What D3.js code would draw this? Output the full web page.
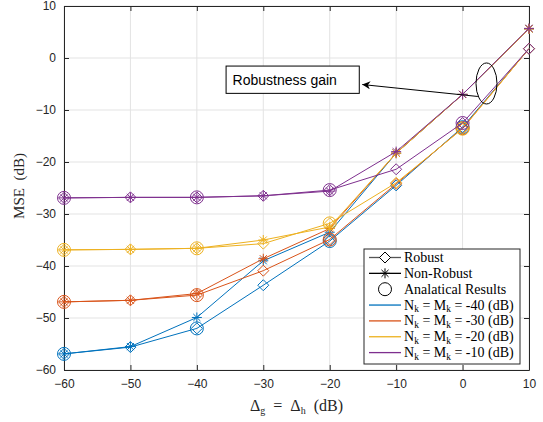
<!DOCTYPE html>
<html>
<head>
<meta charset="utf-8">
<script src="https://cdn.jsdelivr.net/npm/d3@7"></script>
<style>
  body { margin: 0; background: #fff; }
  svg { display: block; }
  .tick text { font-family: "Liberation Sans", Arial, sans-serif; font-size: 12px; fill: #262626; }
</style>
</head>
<body>
<svg id="chart" width="543" height="422"></svg>
<script>
// données
const deltas = [-60, -50, -40, -30, -20, -10, 0, 10];
const analyticIdx = [0, 2, 4, 6]; // points où la courbe analytique est tracée
const noiseLevels = ["-40", "-30", "-20", "-10"];
const colors = ["#0072BD", "#D95319", "#EDB120", "#7E2F8E"];

const robust40 = [-56.9, -55.6, -52.0, -43.7, -35.2, -24.5, -13.3, 1.8];
const nonRobust40 = [-56.9, -55.5, -49.9, -39.0, -33.5, -18.3, -7.0, 5.6];
const robust30 = [-46.9, -46.6, -45.6, -40.9, -34.9, -24.2, -13.5, 1.8];
const nonRobust30 = [-46.9, -46.6, -45.3, -38.6, -32.8, -18.3, -7.0, 5.6];
const robust20 = [-36.9, -36.8, -36.6, -35.7, -31.8, -24.0, -13.6, 1.8];
const nonRobust20 = [-36.9, -36.8, -36.6, -35.0, -32.5, -18.3, -7.0, 5.6];
const robust10 = [-26.9, -26.8, -26.8, -26.5, -25.4, -21.4, -12.5, 1.8];
const nonRobust10 = [-26.9, -26.8, -26.8, -26.5, -25.6, -18.0, -7.0, 5.7];

const xTicks = [-60, -50, -40, -30, -20, -10, 0, 10];
const yTicks = [-60, -50, -40, -30, -20, -10, 0, 10];

const series = [
  { robust: robust40, nonRobust: nonRobust40 },
  { robust: robust30, nonRobust: nonRobust30 },
  { robust: robust20, nonRobust: nonRobust20 },
  { robust: robust10, nonRobust: nonRobust10 }
];

const margin = { top: 6, right: 14, bottom: 52, left: 64 };
const width = 543 - margin.left - margin.right;
const height = 422 - margin.top - margin.bottom;

const svg = d3.select("#chart");
const g = svg.append("g").attr("transform", `translate(${margin.left},${margin.top})`);

const x = d3.scaleLinear().domain([-60, 10]).range([0, width]);
const y = d3.scaleLinear().domain([-60, 10]).range([height, 0]);

// grille
g.append("g").selectAll("line").data(xTicks).enter().append("line")
  .attr("x1", d => x(d)).attr("x2", d => x(d)).attr("y1", 0).attr("y2", height)
  .attr("stroke", "#e3e3e3").attr("stroke-width", 1);
g.append("g").selectAll("line").data(yTicks).enter().append("line")
  .attr("y1", d => y(d)).attr("y2", d => y(d)).attr("x1", 0).attr("x2", width)
  .attr("stroke", "#e3e3e3").attr("stroke-width", 1);

// axes
g.append("g").attr("transform", `translate(0,${height})`)
  .call(d3.axisBottom(x).tickValues(xTicks).tickSizeInner(-5).tickSizeOuter(0).tickPadding(9));
g.append("g")
  .call(d3.axisLeft(y).tickValues(yTicks).tickSizeInner(-5).tickSizeOuter(0).tickPadding(8));
g.append("g")
  .call(d3.axisTop(x).tickValues(xTicks).tickSizeInner(-5).tickSizeOuter(0).tickFormat(""));
g.append("g").attr("transform", `translate(${width},0)`)
  .call(d3.axisRight(y).tickValues(yTicks).tickSizeInner(-5).tickSizeOuter(0).tickFormat(""));
g.selectAll(".domain").attr("stroke", "#262626");
g.selectAll(".tick line").attr("stroke", "#262626");

// symboles
const diamond = (s) => `M0,${-s}L${s},0L0,${s}L${-s},0Z`;
const asterisk = (s) => {
  const d = s * 0.7071;
  return `M${-s},0L${s},0M0,${-s}L0,${s}M${-d},${-d}L${d},${d}M${-d},${d}L${d},${-d}`;
};

const line = d3.line().x((d, i) => x(deltas[i])).y(d => y(d));

series.forEach((s, k) => {
  const c = colors[k];
  const sg = g.append("g");
  [s.robust, s.nonRobust].forEach(vals => {
    sg.append("path").datum(vals).attr("d", line)
      .attr("fill", "none").attr("stroke", c).attr("stroke-width", 1);
  });
  sg.selectAll(".dia").data(s.robust).enter().append("path")
    .attr("transform", (d, i) => `translate(${x(deltas[i])},${y(d)})`)
    .attr("d", diamond(5.5)).attr("fill", "none").attr("stroke", c).attr("stroke-width", 1);
  sg.selectAll(".ast").data(s.nonRobust).enter().append("path")
    .attr("transform", (d, i) => `translate(${x(deltas[i])},${y(d)})`)
    .attr("d", asterisk(5)).attr("fill", "none").attr("stroke", c).attr("stroke-width", 1);
  sg.selectAll(".circ").data(analyticIdx).enter().append("circle")
    .attr("cx", i => x(deltas[i])).attr("cy", i => y(s.robust[i])).attr("r", 6.5)
    .attr("fill", "none").attr("stroke", c).attr("stroke-width", 1);
});

// annotation "Robustness gain"
const ell = { cx: x(3.6), cy: y(-4.9) };
g.append("ellipse").attr("cx", ell.cx).attr("cy", ell.cy).attr("rx", 10.5).attr("ry", 20.5)
  .attr("fill", "none").attr("stroke", "#000").attr("stroke-width", 1);
svg.append("defs").append("marker").attr("id", "arr").attr("viewBox", "0 0 10 10")
  .attr("refX", 10).attr("refY", 5).attr("markerWidth", 12).attr("markerHeight", 8)
  .attr("markerUnits", "userSpaceOnUse").attr("orient", "auto")
  .append("path").attr("d", "M0,0L10,5L0,10L3,5Z").attr("fill", "#000");
g.append("line").attr("x1", x(2.3)).attr("y1", y(-7.4)).attr("x2", x(-15.1)).attr("y2", y(-5.1))
  .attr("stroke", "#000").attr("stroke-width", 1).attr("marker-end", "url(#arr)");
const boxX0 = x(-35.6), boxX1 = x(-15.55);
g.append("rect").attr("x", boxX0).attr("y", y(-1.55)).attr("width", boxX1 - boxX0).attr("height", y(-6.8) - y(-1.55))
  .attr("fill", "#fff").attr("stroke", "#000").attr("stroke-width", 1);
g.append("text").attr("x", boxX0 + 6.5).attr("y", y(-4.2) + 5)
  .attr("font-family", "Liberation Sans, Arial, sans-serif").attr("font-size", 14).attr("fill", "#000")
  .text("Robustness gain");

// légende
const lg = svg.append("g").attr("transform", "translate(364,249)");
lg.append("rect").attr("width", 156).attr("height", 115).attr("fill", "#fff")
  .attr("stroke", "#262626").attr("stroke-width", 1);
const serif = "Liberation Serif, 'Times New Roman', serif";
const rowY = (i) => 8.5 + i * 15.85;
const lx0 = 5, lx1 = 37, tx = 40;
const legendRows = [
  { label: "Robust", color: "#555", sym: "dia" },
  { label: "Non-Robust", color: "#000", sym: "ast" },
  { label: "Analatical Results", color: null, sym: "circ" }
];
legendRows.forEach((r, i) => {
  const yy = rowY(i);
  if (r.color) lg.append("line").attr("x1", lx0).attr("x2", lx1).attr("y1", yy).attr("y2", yy)
    .attr("stroke", r.color).attr("stroke-width", 1.3);
  const mx = (lx0 + lx1) / 2;
  if (r.sym === "dia") lg.append("path").attr("transform", `translate(${mx},${yy})`).attr("d", diamond(5.5))
    .attr("fill", "#fff").attr("stroke", "#000");
  if (r.sym === "ast") lg.append("path").attr("transform", `translate(${mx},${yy})`).attr("d", asterisk(5))
    .attr("fill", "none").attr("stroke", "#000");
  if (r.sym === "circ") lg.append("circle").attr("cx", mx).attr("cy", yy).attr("r", 6.5)
    .attr("fill", "none").attr("stroke", "#000");
  lg.append("text").attr("x", tx).attr("y", yy + 4.5).attr("font-family", serif).attr("font-size", 14)
    .attr("fill", "#000").text(r.label);
});
noiseLevels.forEach((n, k) => {
  const yy = rowY(k + 3);
  lg.append("line").attr("x1", lx0).attr("x2", lx1).attr("y1", yy).attr("y2", yy)
    .attr("stroke", colors[k]).attr("stroke-width", 1.3);
  const t = lg.append("text").attr("x", tx).attr("y", yy + 4.5).attr("font-family", serif)
    .attr("font-size", 14).attr("fill", "#000");
  t.append("tspan").text("N");
  t.append("tspan").attr("font-size", 9.5).attr("dy", 2.5).text("k");
  t.append("tspan").attr("dy", -2.5).text(" = M");
  t.append("tspan").attr("font-size", 9.5).attr("dy", 2.5).text("k");
  t.append("tspan").attr("dy", -2.5).text(` = ${n} (dB)`);
});

// titres des axes
const nb = "\u00a0";
const xl = svg.append("text").attr("x", margin.left + width / 2).attr("y", 411)
  .attr("text-anchor", "middle").attr("font-family", serif).attr("font-size", 16).attr("fill", "#262626");
xl.append("tspan").text("Δ");
xl.append("tspan").attr("font-size", 10).attr("dy", 3).text("g");
xl.append("tspan").attr("dy", -3).text(`${nb}${nb}=${nb}${nb}Δ`);
xl.append("tspan").attr("font-size", 10).attr("dy", 3).text("h");
xl.append("tspan").attr("dy", -3).text(`${nb}${nb}(dB)`);

svg.append("text").attr("transform", `translate(24,${margin.top + height / 2 - 2}) rotate(-90)`)
  .attr("text-anchor", "middle").attr("font-family", serif).attr("font-size", 15).attr("fill", "#262626")
  .text(`MSE${nb}${nb}(dB)`);
</script>
</body>
</html>
